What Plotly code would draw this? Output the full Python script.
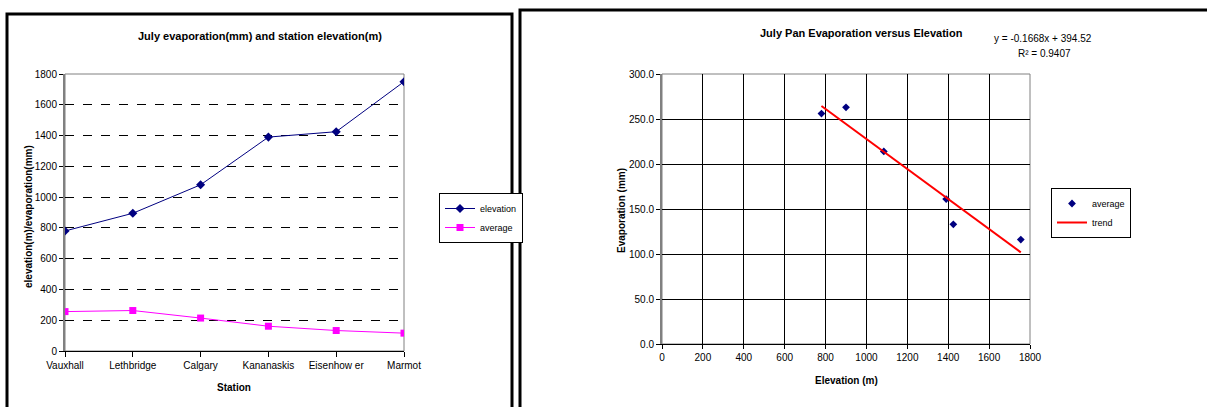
import plotly.graph_objects as go

# ---- data ----
stations = ["Vauxhall", "Lethbridge", "Calgary", "Kananaskis", "Eisenhow er", "Marmot"]
elevation = [780, 895, 1080, 1390, 1425, 1750]
average = [256, 263, 214, 161, 133, 116]

scatter_elev = [780, 900, 1085, 1390, 1425, 1755]
scatter_avg = [256, 263, 214, 161, 133, 116]
trend_slope = -0.1668
trend_intercept = 394.52
trend_x = [780, 1755]
trend_y = [trend_slope * v + trend_intercept for v in trend_x]

W, H = 1207, 407
def px(x): return x / W
def py(y): return 1 - y / H

FONT = "Liberation Sans, Arial, sans-serif"

fig = go.Figure()

# left chart
fig.add_trace(go.Scatter(x=list(range(len(stations))), y=elevation, mode="lines+markers",
                         name="elevation", line=dict(color="#000080", width=1),
                         marker=dict(symbol="diamond", size=7, color="#000080"),
                         xaxis="x", yaxis="y", legend="legend"))
fig.add_trace(go.Scatter(x=list(range(len(stations))), y=average, mode="lines+markers",
                         name="average", line=dict(color="#FF00FF", width=1),
                         marker=dict(symbol="square", size=7, color="#FF00FF"),
                         xaxis="x", yaxis="y", legend="legend"))

# right chart
fig.add_trace(go.Scatter(x=scatter_elev, y=scatter_avg, mode="markers", name="average",
                         marker=dict(symbol="diamond", size=6, color="#000080"),
                         xaxis="x2", yaxis="y2", legend="legend2"))
fig.add_trace(go.Scatter(x=trend_x, y=trend_y, mode="lines", name="trend",
                         line=dict(color="#FF0000", width=2),
                         xaxis="x2", yaxis="y2", legend="legend2"))

tickfont = dict(family=FONT, size=10, color="#000000")

fig.update_layout(
    width=W, height=H,
    margin=dict(l=0, r=0, t=0, b=0, autoexpand=False),
    paper_bgcolor="white", plot_bgcolor="white",
    font=dict(family=FONT, size=10, color="#000000"),
    xaxis=dict(domain=[px(65), px(404)], anchor="y", range=[0, 5], automargin=False,
               tickmode="array", tickvals=list(range(len(stations))), ticktext=stations,
               showgrid=False, zeroline=False, showline=True, linecolor="#000000", linewidth=1,
               ticks="outside", ticklen=5, tickcolor="#000000", tickfont=tickfont),
    yaxis=dict(domain=[py(351), py(74)], anchor="x", range=[0, 1800], dtick=200, automargin=False,
               showgrid=True, gridcolor="#000000", griddash="dash", gridwidth=1,
               zeroline=False, showline=True, linecolor="#808080", linewidth=2,
               ticks="outside", ticklen=4, tickcolor="#000000", tickfont=tickfont),
    xaxis2=dict(domain=[px(662), px(1030)], anchor="y2", range=[0, 1800], dtick=200, automargin=False,
                showgrid=True, gridcolor="#000000", gridwidth=1,
                zeroline=False, showline=True, linecolor="#000000", linewidth=1,
                ticks="outside", ticklen=4, tickcolor="#000000", tickfont=tickfont),
    yaxis2=dict(domain=[py(344), py(74)], anchor="x2", range=[0, 300], dtick=50, automargin=False,
                tickformat=".1f",
                showgrid=True, gridcolor="#000000", gridwidth=1,
                zeroline=False, showline=True, linecolor="#808080", linewidth=2,
                ticks="outside", ticklen=4, tickcolor="#000000", tickfont=tickfont),
    legend=dict(x=px(439), y=py(193), xanchor="left", yanchor="top",
                bordercolor="#000000", borderwidth=1, bgcolor="white",
                font=dict(family=FONT, size=9), tracegroupgap=0, itemwidth=30),
    legend2=dict(x=px(1051), y=py(188), xanchor="left", yanchor="top",
                 bordercolor="#000000", borderwidth=1, bgcolor="white",
                 font=dict(family=FONT, size=9), tracegroupgap=0, itemwidth=30),
    showlegend=True,
)

def note(text, x, y, size=10, angle=0):
    fig.add_annotation(text=text, x=px(x), y=py(y), xref="paper", yref="paper",
                       showarrow=False, xanchor="center", yanchor="middle",
                       textangle=angle, font=dict(family=FONT, size=size, color="#000000"))

note("<b>July evaporation(mm) and station elevation(m)</b>", 260, 36, size=11)
note("<b>July Pan Evaporation versus Elevation</b>", 861, 33, size=11)
note("y = -0.1668x + 394.52", 1043, 39)
note("R² = 0.9407", 1044, 54)
note("<b>Station</b>", 234, 387)
note("<b>elevation(m)/evaporation(mm)</b>", 28, 217, angle=-90)
note("<b>Elevation (m)</b>", 846, 380)
note("<b>Evaporation (mm)</b>", 621, 211, angle=-90)

# plot-area borders (top/right gray)
for xd, yd in [("x", "y"), ("x2", "y2")]:
    fig.add_shape(type="rect", xref=f"{xd} domain", yref=f"{yd} domain",
                  x0=0, x1=1, y0=0, y1=1, line=dict(color="#808080", width=1), layer="below")

# panel frames
fig.add_shape(type="rect", xref="paper", yref="paper",
              x0=px(7), x1=px(512), y0=py(410), y1=py(14),
              line=dict(color="#000000", width=3))
fig.add_shape(type="rect", xref="paper", yref="paper",
              x0=px(520), x1=px(1212), y0=py(410), y1=py(10),
              line=dict(color="#000000", width=3))

fig.write_html("out.html", config={"displayModeBar": False},
               post_script="document.body.style.margin='0';document.body.style.overflow='hidden';")
